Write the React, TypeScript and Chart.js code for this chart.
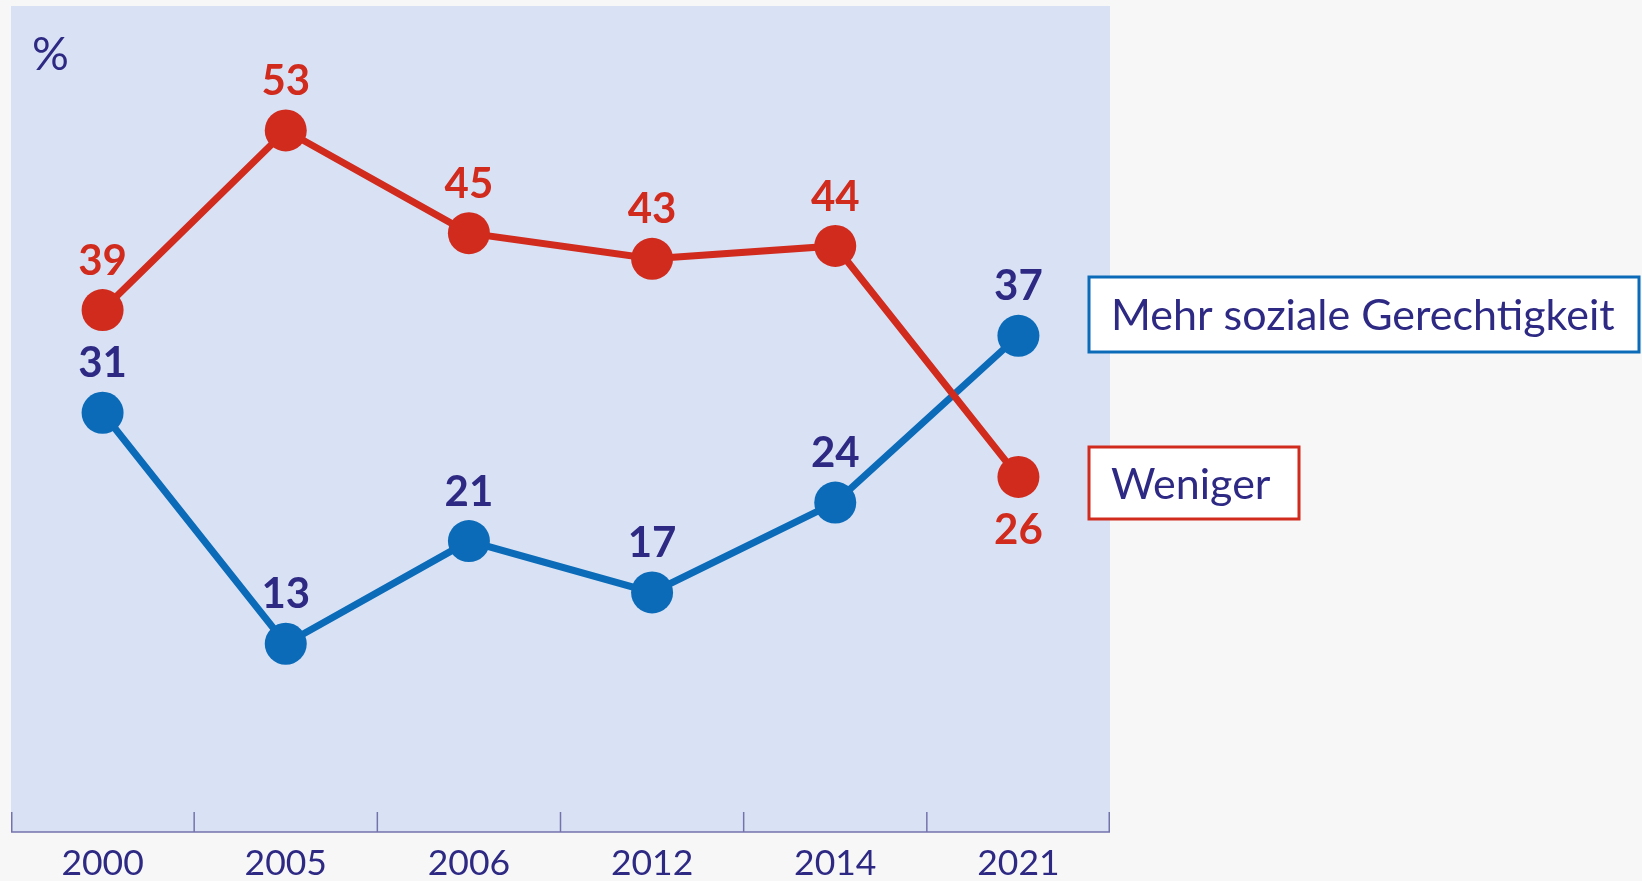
import React, { useEffect, useRef } from "react";
import { Chart, registerables } from "chart.js";

Chart.register(...registerables);

const years = ["2000", "2005", "2006", "2012", "2014", "2021"];
const moreJustice = [31, 13, 21, 17, 24, 37];
const less = [39, 53, 45, 43, 44, 26];
const seriesNames = ["Mehr soziale Gerechtigkeit", "Weniger"];
const unitLabel = "%";

const PAGE_BG = "#f7f7f7";
const PANEL_BG = "#d9e2f4";
const NAVY = "#2e2a84";
const BLUE = "#0b6bb8";
const RED = "#d12b1e";
const AXIS = "#7472ad";
const FONT = "Lato, 'Noto Sans', sans-serif";

const decoPlugin = {
  id: "deco",
  beforeDraw(chart: any) {
    const { ctx, chartArea: a, width, height } = chart;
    ctx.save();
    ctx.fillStyle = PAGE_BG;
    ctx.fillRect(0, 0, width, height);
    ctx.fillStyle = PANEL_BG;
    ctx.fillRect(a.left, a.top, a.right - a.left, a.bottom - a.top);
    ctx.strokeStyle = AXIS;
    ctx.lineWidth = 1.5;
    ctx.beginPath();
    ctx.moveTo(a.left, a.bottom);
    ctx.lineTo(a.right, a.bottom);
    ctx.stroke();
    const xs = chart.scales.x;
    const n = years.length;
    for (let i = 0; i <= n; i++) {
      let px: number;
      if (i === 0) px = a.left + 0.75;
      else if (i === n) px = a.right - 0.75;
      else px = (xs.getPixelForValue(i - 1) + xs.getPixelForValue(i)) / 2;
      ctx.beginPath();
      ctx.moveTo(px, a.bottom - 20);
      ctx.lineTo(px, a.bottom);
      ctx.stroke();
    }
    ctx.fillStyle = NAVY;
    ctx.font = `46px ${FONT}`;
    ctx.textAlign = "left";
    ctx.textBaseline = "alphabetic";
    ctx.fillText(unitLabel, a.left + 21, a.top + 64);
    ctx.restore();
  },
  afterDatasetsDraw(chart: any) {
    const { ctx } = chart;
    ctx.save();
    ctx.font = `bold 42px ${FONT}`;
    ctx.textAlign = "center";
    ctx.textBaseline = "middle";
    const blueMeta = chart.getDatasetMeta(1);
    const redMeta = chart.getDatasetMeta(0);
    blueMeta.data.forEach((el: any, i: number) => {
      ctx.fillStyle = NAVY;
      ctx.fillText(String(moreJustice[i]), el.x, el.y - 49);
    });
    redMeta.data.forEach((el: any, i: number) => {
      ctx.fillStyle = RED;
      const below = less[i] < moreJustice[i];
      ctx.fillText(String(less[i]), el.x, below ? el.y + 54 : el.y - 49);
    });
    ctx.restore();
  },
  afterDraw(chart: any) {
    const { ctx, chartArea: a } = chart;
    ctx.save();
    const boxes = [
      { text: seriesNames[0], color: BLUE, y: 277, w: 550, h: 75 },
      { text: seriesNames[1], color: RED, y: 447, w: 210, h: 72 },
    ];
    const bx = a.right - 21;
    boxes.forEach((b) => {
      ctx.fillStyle = "#ffffff";
      ctx.fillRect(bx, b.y, b.w, b.h);
      ctx.strokeStyle = b.color;
      ctx.lineWidth = 3;
      ctx.strokeRect(bx, b.y, b.w, b.h);
      ctx.fillStyle = NAVY;
      ctx.font = `43px ${FONT}`;
      ctx.textAlign = "left";
      ctx.textBaseline = "middle";
      ctx.fillText(b.text, bx + 22, b.y + b.h / 2 + 2);
    });
    ctx.restore();
  },
};

export default function App() {
  const ref = useRef<HTMLCanvasElement>(null);
  useEffect(() => {
    if (!ref.current) return;
    const chart = new Chart(ref.current, {
      type: "line",
      data: {
        labels: years,
        datasets: [
          {
            label: seriesNames[1],
            data: less,
            borderColor: RED,
            backgroundColor: RED,
            pointBackgroundColor: RED,
            pointBorderWidth: 0,
            pointRadius: 21,
            borderWidth: 7,
            tension: 0,
          },
          {
            label: seriesNames[0],
            data: moreJustice,
            borderColor: BLUE,
            backgroundColor: BLUE,
            pointBackgroundColor: BLUE,
            pointBorderWidth: 0,
            pointRadius: 21,
            borderWidth: 7,
            tension: 0,
          },
        ],
      },
      options: {
        animation: false,
        responsive: false,
        layout: { autoPadding: false, padding: { left: 11, right: 532, top: 6, bottom: 0 } },
        plugins: { legend: { display: false }, tooltip: { enabled: false } },
        scales: {
          x: {
            type: "category",
            offset: true,
            grid: { display: false, drawTicks: false },
            border: { display: false },
            ticks: {
              color: NAVY,
              font: { family: FONT, size: 35.5 },
              padding: 10,
              maxRotation: 0,
              autoSkip: false,
            },
            afterFit(scale: any) {
              scale.height = 49;
            },
          },
          y: {
            display: false,
            min: -1.67,
            max: 62.7,
          },
        },
      },
      plugins: [decoPlugin],
    });
    return () => chart.destroy();
  }, []);
  return (
    <div style={{ position: "fixed", left: 0, top: 0, width: 1642, height: 881, background: PAGE_BG }}>
      <canvas ref={ref} width={1642} height={881} style={{ width: 1642, height: 881, display: "block" }} />
    </div>
  );
}
